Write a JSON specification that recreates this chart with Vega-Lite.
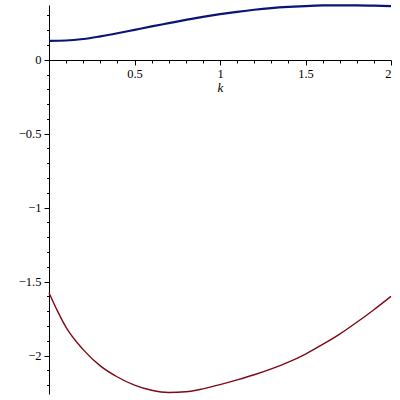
{
  "$schema": "https://vega.github.io/schema/vega-lite/v6.json",
  "autosize": "none",
  "width": 342,
  "height": 389,
  "padding": {"left": 49, "top": 5, "right": 9, "bottom": 6},
  "background": "white",
  "config": {
    "view": {"stroke": null},
    "axis": {
      "labelFont": "Times New Roman, Liberation Serif, DejaVu Serif, serif",
      "labelFontSize": 12.5,
      "labelColor": "black",
      "domainColor": "black",
      "tickColor": "black",
      "grid": false,
      "titleFont": "Times New Roman, Liberation Serif, DejaVu Serif, serif",
      "titleFontStyle": "italic",
      "titleFontWeight": "normal",
      "titleFontSize": 13,
      "titleColor": "black"
    }
  },
  "data": {
    "values": [
      {"k": 0.0, "v": 0.128, "s": "a"},
      {"k": 0.1, "v": 0.130, "s": "a"},
      {"k": 0.2, "v": 0.140, "s": "a"},
      {"k": 0.3, "v": 0.158, "s": "a"},
      {"k": 0.4, "v": 0.179, "s": "a"},
      {"k": 0.5, "v": 0.202, "s": "a"},
      {"k": 0.6, "v": 0.225, "s": "a"},
      {"k": 0.7, "v": 0.247, "s": "a"},
      {"k": 0.8, "v": 0.269, "s": "a"},
      {"k": 0.9, "v": 0.290, "s": "a"},
      {"k": 1.0, "v": 0.308, "s": "a"},
      {"k": 1.1, "v": 0.324, "s": "a"},
      {"k": 1.2, "v": 0.338, "s": "a"},
      {"k": 1.3, "v": 0.349, "s": "a"},
      {"k": 1.4, "v": 0.357, "s": "a"},
      {"k": 1.5, "v": 0.363, "s": "a"},
      {"k": 1.6, "v": 0.367, "s": "a"},
      {"k": 1.7, "v": 0.368, "s": "a"},
      {"k": 1.8, "v": 0.368, "s": "a"},
      {"k": 1.9, "v": 0.366, "s": "a"},
      {"k": 2.0, "v": 0.362, "s": "a"},
      {"k": 0.0, "v": -1.575, "s": "b"},
      {"k": 0.05, "v": -1.70, "s": "b"},
      {"k": 0.1, "v": -1.81, "s": "b"},
      {"k": 0.2, "v": -1.96, "s": "b"},
      {"k": 0.3, "v": -2.07, "s": "b"},
      {"k": 0.4, "v": -2.145, "s": "b"},
      {"k": 0.5, "v": -2.20, "s": "b"},
      {"k": 0.6, "v": -2.235, "s": "b"},
      {"k": 0.7, "v": -2.25, "s": "b"},
      {"k": 0.8, "v": -2.245, "s": "b"},
      {"k": 0.9, "v": -2.225, "s": "b"},
      {"k": 1.0, "v": -2.197, "s": "b"},
      {"k": 1.1, "v": -2.165, "s": "b"},
      {"k": 1.2, "v": -2.13, "s": "b"},
      {"k": 1.3, "v": -2.09, "s": "b"},
      {"k": 1.4, "v": -2.045, "s": "b"},
      {"k": 1.5, "v": -1.99, "s": "b"},
      {"k": 1.6, "v": -1.925, "s": "b"},
      {"k": 1.7, "v": -1.855, "s": "b"},
      {"k": 1.8, "v": -1.775, "s": "b"},
      {"k": 1.9, "v": -1.69, "s": "b"},
      {"k": 2.0, "v": -1.60, "s": "b"}
    ]
  },
  "layer": [
    {
      "mark": {"type": "line", "strokeWidth": 0, "opacity": 0},
      "encoding": {
        "x": {"field": "k", "type": "quantitative", "scale": {"domain": [0, 2], "nice": false},
          "axis": {"orient": "bottom", "offset": -334, "values": [0.1,0.2,0.3,0.4,0.6,0.7,0.8,0.9,1.1,1.2,1.3,1.4,1.6,1.7,1.8,1.9], "labels": false, "domain": false, "tickSize": 3, "title": null}},
        "y": {"field": "v", "type": "quantitative", "scale": {"domain": [-2.26, 0.37], "nice": false, "zero": false},
          "axis": {"orient": "left", "values": [-2.2,-2.1,-1.9,-1.8,-1.7,-1.6,-1.4,-1.3,-1.2,-1.1,-0.9,-0.8,-0.7,-0.6,-0.4,-0.3,-0.2,-0.1,0.1,0.2,0.3], "labels": false, "domain": false, "tickSize": 2.5, "title": null}},
        "detail": {"field": "s"}
      }
    },
    {
      "mark": {"type": "line", "interpolate": "monotone"},
      "encoding": {
        "x": {"field": "k", "type": "quantitative", "scale": {"domain": [0, 2], "nice": false},
          "axis": {"orient": "bottom", "offset": -334, "values": [0.5, 1, 1.5, 2], "format": "~g", "tickSize": 5, "labelPadding": 2, "title": "k", "titlePadding": 2}},
        "y": {"field": "v", "type": "quantitative", "scale": {"domain": [-2.26, 0.37], "nice": false, "zero": false},
          "axis": {"orient": "left", "values": [-2, -1.5, -1, -0.5, 0], "format": "~g", "tickSize": 5, "labelPadding": 3, "title": null}},
        "color": {"field": "s", "type": "nominal", "scale": {"domain": ["a", "b"], "range": ["#0a1478", "#7d0a14"]}, "legend": null},
        "strokeWidth": {"field": "s", "type": "nominal", "scale": {"domain": ["a", "b"], "range": [2.2, 1.4]}, "legend": null}
      }
    }
  ],
  "resolve": {"axis": {"x": "independent", "y": "independent"}}
}
